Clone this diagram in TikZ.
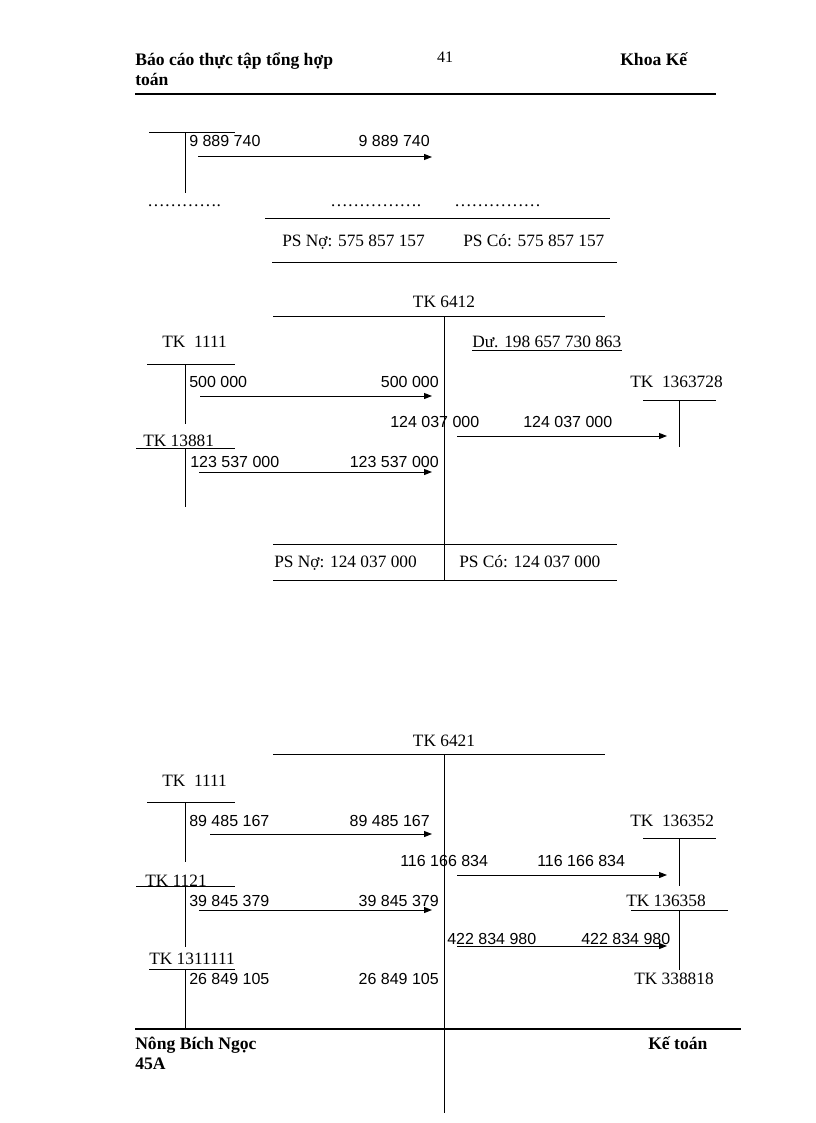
\documentclass[tikz,border=0pt]{standalone}
\usepackage{fontspec}
\setmainfont{Liberation Serif}
\newfontfamily\numfont{Liberation Sans}
\usetikzlibrary{arrows.meta}

\begin{document}
\begin{tikzpicture}[x=0.75pt, y=-0.75pt,
  num/.style={font=\numfont\fontsize{12}{14}\selectfont, inner sep=0pt},
  lbl/.style={font=\fontsize{13}{15}\selectfont, inner sep=0pt},
  hdr/.style={font=\bfseries\fontsize{13.2}{15}\selectfont, inner sep=0pt},
  rule/.style={line width=0.75pt},
  bar/.style={line width=1.6pt},
  arr/.style={line width=0.75pt, -{Triangle[length=6pt,width=4.5pt]}}
]
\useasboundingbox (0,0) rectangle (816,1123);

% page header
\node[hdr, anchor=base west] (hdrA) at (135,66) {Báo cáo thực tập tổng hợp};
\node[hdr, anchor=base west] (hdrB) at (135,86) {toán};
\node[num, font=\fontsize{12}{14}\selectfont, anchor=base] (pageno) at (445,63) {41};
\node[hdr, anchor=base west] (hdrC) at (620,66) {Khoa Kế};
\draw[bar] (135,94) -- (716,94);

% end of previous account
\draw[rule] (149,133) -- (235,133) (185,133) -- (185,193);
\node[num, anchor=base west] (a1L) at (189,147) {9 889 740};
\node[num, anchor=base east] (a1R) at (430,147) {9 889 740};
\coordinate (a1s) at (198,157); \coordinate (a1e) at (432,157);
\draw[arr] (a1s) -- (a1e);
\node[lbl, anchor=base west] (dotsA) at (147,207) {………….};
\node[lbl, anchor=base west] (dotsB) at (330,207) {…………….};
\node[lbl, anchor=base west] (dotsC) at (454,207) {……………};
\draw[rule] (265,219) -- (610,219);
\node[lbl, anchor=base west] (psNoA) at (282,247) {PS Nợ: 575 857 157};
\node[lbl, anchor=base west] (psCoA) at (463,247) {PS Có: 575 857 157};
\draw[rule] (272,262) -- (617,262);

% TK 6412
\node[lbl, anchor=base] (tk6412) at (444,307) {TK 6412};
\draw[rule] (273,316) -- (605,316) (444,316) -- (444,580);
\node[lbl, anchor=base west] (tkA1111) at (162,347) {TK\ \ 1111};
\node[lbl, anchor=base west] (duA) at (472,347) {Dư. 198 657 730 863};
\draw[rule] ([yshift=-2.5pt]duA.base west) -- ([yshift=-2.5pt]duA.base east);
\draw[rule] (147,364) -- (235,364) (185,364) -- (185,424);
\node[num, anchor=base west] (b1L) at (189,387) {500 000};
\node[num, anchor=base east] (b1R) at (439,387) {500 000};
\coordinate (b1s) at (200,396); \coordinate (b1e) at (432,396);
\draw[arr] (b1s) -- (b1e);
\node[lbl, anchor=base west] (tk1363728) at (630,387) {TK\ \ 1363728};
\draw[rule] (643,400) -- (716,400) (679,400) -- (679,447);
\node[num, anchor=base west] (b2L) at (390,427) {124 037 000};
\node[num, anchor=base west] (b2R) at (523,427) {124 037 000};
\coordinate (b2s) at (457,436); \coordinate (b2e) at (667,436);
\draw[arr] (b2s) -- (b2e);
\node[lbl, anchor=base west] (tk13881) at (143,446) {TK 13881};
\draw[rule] (136,448) -- (235,448) (185,448) -- (185,507);
\node[num, anchor=base west] (b3L) at (190,467) {123 537 000};
\node[num, anchor=base east] (b3R) at (439,467) {123 537 000};
\coordinate (b3s) at (199,472); \coordinate (b3e) at (432,472);
\draw[arr] (b3s) -- (b3e);
\draw[rule] (273,544) -- (617,544);
\node[lbl, anchor=base west] (psNoB) at (274,567) {PS Nợ: 124 037 000};
\node[lbl, anchor=base west] (psCoB) at (459,567) {PS Có: 124 037 000};
\draw[rule] (273,580) -- (617,580);

% TK 6421
\node[lbl, anchor=base] (tk6421) at (444,746) {TK 6421};
\draw[rule] (273,754) -- (605,754) (444,754) -- (444,1113);
\node[lbl, anchor=base west] (tkB1111) at (162,786) {TK\ \ 1111};
\draw[rule] (147,802) -- (235,802) (185,802) -- (185,862);
\node[num, anchor=base west] (c1L) at (189,826) {89 485 167};
\node[num, anchor=base east] (c1R) at (430,826) {89 485 167};
\coordinate (c1s) at (210,834); \coordinate (c1e) at (432,834);
\draw[arr] (c1s) -- (c1e);
\node[lbl, anchor=base west] (tk136352) at (630,826) {TK\ \ 136352};
\draw[rule] (643,838) -- (716,838) (679,838) -- (679,886);
\node[num, anchor=base west] (c2L) at (400,866) {116 166 834};
\node[num, anchor=base west] (c2R) at (537,866) {116 166 834};
\coordinate (c2s) at (457,875); \coordinate (c2e) at (667,875);
\draw[arr] (c2s) -- (c2e);
\node[lbl, anchor=base west] (tk1121) at (145,886) {TK 1121};
\draw[rule] (136,886) -- (235,886) (185,886) -- (185,947);
\node[num, anchor=base west] (c3L) at (189,906) {39 845 379};
\node[num, anchor=base east] (c3R) at (439,906) {39 845 379};
\coordinate (c3s) at (199,910); \coordinate (c3e) at (432,910);
\draw[arr] (c3s) -- (c3e);
\node[lbl, anchor=base west] (tk136358) at (626,906) {TK 136358};
\draw[rule] (631,910) -- (728,910) (679,910) -- (679,970);
\node[num, anchor=base west] (c4L) at (447,944) {422 834 980};
\node[num, anchor=base west] (c4R) at (581,944) {422 834 980};
\coordinate (c4s) at (457,946); \coordinate (c4e) at (667,946);
\draw[arr] (c4s) -- (c4e);
\node[lbl, anchor=base west] (tk1311111) at (149,964) {TK 1311111};
\draw[rule] (149,969) -- (235,969) (185,969) -- (185,1029);
\node[num, anchor=base west] (c5L) at (189,984) {26 849 105};
\node[num, anchor=base east] (c5R) at (439,984) {26 849 105};
\node[lbl, anchor=base west] (tk338818) at (634,984) {TK 338818};

% page footer
\draw[bar] (135,1029) -- (741,1029);
\node[hdr, anchor=base west] (ftA) at (135,1049) {Nông Bích Ngọc};
\node[hdr, anchor=base west] (ftB) at (135,1069) {45A};
\node[hdr, anchor=base west] (ftC) at (648,1049) {Kế toán};
\end{tikzpicture}
\end{document}
